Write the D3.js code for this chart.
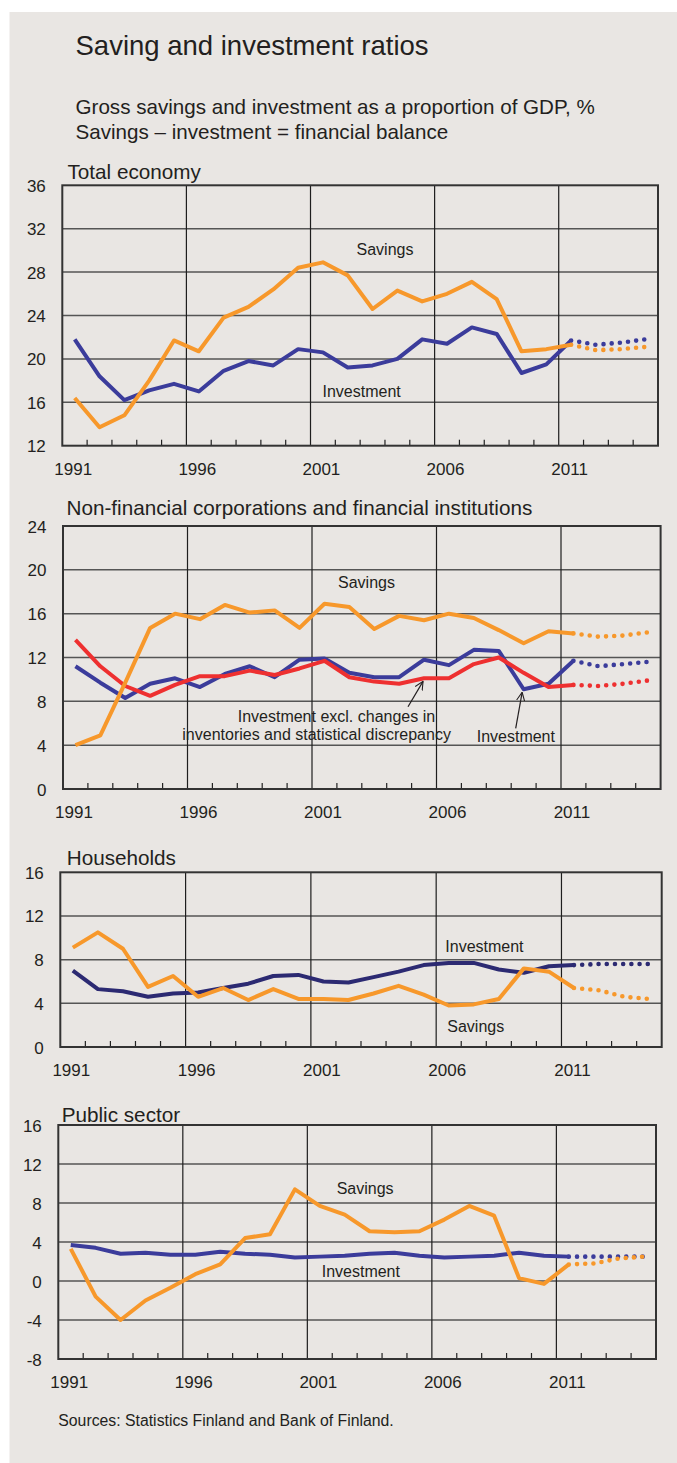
<!DOCTYPE html>
<html>
<head>
<meta charset="utf-8">
<script src="https://cdn.jsdelivr.net/npm/d3@7"></script>
<style>
  html, body { margin: 0; padding: 0; background: #ffffff; }
  svg { display: block; }
  text { font-family: "Liberation Sans", Arial, Helvetica, sans-serif; fill: #231f20; }
</style>
</head>
<body>
<svg id="chart" width="677" height="1463"></svg>
<script>
// ---------------- DATA ----------------
const years = [1991,1992,1993,1994,1995,1996,1997,1998,1999,2000,2001,2002,2003,2004,2005,2006,2007,2008,2009,2010,2011,2012,2013,2014];
const xTickLabels = [1991,1996,2001,2006,2011];
const lastActualYear = 2011;

// Total economy
const totalSavings    = [16.4,13.7,14.8,18.0,21.7,20.7,23.8,24.8,26.4,28.4,28.9,27.7,24.6,26.3,25.3,26.0,27.1,25.5,20.7,20.9,21.3,20.8,20.9,21.1];
const totalInvestment = [21.8,18.4,16.2,17.1,17.7,17.0,18.9,19.8,19.4,20.9,20.6,19.2,19.4,20.0,21.8,21.4,22.9,22.3,18.7,19.5,21.7,21.3,21.5,21.8];
const totalTicks = [12,16,20,24,28,32,36];

// Non-financial corporations and financial institutions
const corpSavings    = [4.0,4.9,9.7,14.7,16.0,15.5,16.8,16.1,16.3,14.7,16.9,16.6,14.6,15.8,15.4,16.0,15.6,14.5,13.3,14.4,14.2,13.9,14.0,14.3];
const corpInvestment = [11.2,9.7,8.3,9.6,10.1,9.3,10.5,11.2,10.2,11.8,11.9,10.6,10.2,10.2,11.8,11.3,12.7,12.6,9.1,9.6,11.7,11.2,11.4,11.6];
const corpInvExcl    = [13.6,11.2,9.4,8.5,9.5,10.3,10.3,10.8,10.4,11.0,11.7,10.2,9.8,9.6,10.1,10.1,11.4,12.0,10.6,9.3,9.5,9.4,9.6,9.9];
const corpTicks = [0,4,8,12,16,20,24];

// Households
const houseSavings    = [9.1,10.5,9.0,5.5,6.5,4.6,5.4,4.3,5.3,4.4,4.4,4.3,4.9,5.6,4.8,3.8,3.9,4.4,7.2,6.9,5.4,5.2,4.6,4.4];
const houseInvestment = [7.0,5.3,5.1,4.6,4.9,5.0,5.4,5.8,6.5,6.6,6.0,5.9,6.4,6.9,7.5,7.7,7.7,7.1,6.8,7.4,7.5,7.6,7.6,7.6];
const houseTicks = [0,4,8,12,16];

// Public sector
const publicSavings    = [3.3,-1.6,-4.0,-2.0,-0.7,0.7,1.7,4.4,4.8,9.4,7.7,6.8,5.1,5.0,5.1,6.3,7.7,6.7,0.3,-0.3,1.7,1.8,2.3,2.5];
const publicInvestment = [3.7,3.4,2.8,2.9,2.7,2.7,3.0,2.8,2.7,2.4,2.5,2.6,2.8,2.9,2.6,2.4,2.5,2.6,2.9,2.6,2.5,2.5,2.5,2.5];
const publicTicks = [-8,-4,0,4,8,12,16];

// ---------------- STYLE ----------------
const ORANGE = "#f7982b";
const BLUE = "#3b3c9b";
const NAVY = "#2c2a72";
const RED = "#ee3030";
const BG = "#e9e6e3";

const svg = d3.select("#chart");
svg.append("rect").attr("x", 0).attr("y", 0).attr("width", 677).attr("height", 1463).attr("fill", "#ffffff");
svg.append("rect").attr("x", 9.5).attr("y", 12).attr("width", 668).attr("height", 1451).attr("fill", BG);

svg.append("text").attr("x", 75.5).attr("y", 55).attr("font-size", 27.5).text("Saving and investment ratios");
svg.append("text").attr("x", 75.5).attr("y", 114).attr("font-size", 20.6).text("Gross savings and investment as a proportion of GDP, %");
svg.append("text").attr("x", 75.5).attr("y", 138.5).attr("font-size", 20.6).text("Savings \u2013 investment = financial balance");

svg.append("text").attr("x", 58.3).attr("y", 1425.5).attr("font-size", 15.8).text("Sources: Statistics Finland and Bank of Finland.");

// arrow marker
const defs = svg.append("defs");
defs.append("marker").attr("id", "arr").attr("viewBox", "0 0 10 10").attr("refX", 9.5).attr("refY", 5)
  .attr("markerWidth", 9).attr("markerHeight", 9).attr("orient", "auto").attr("markerUnits", "userSpaceOnUse")
  .append("path").attr("d", "M0,0.5 L9.5,5 L0,9.5").attr("fill", "none").attr("stroke", "#231f20").attr("stroke-width", 1.2);

function panel(cfg) {
  const g = svg.append("g");
  const x = d3.scaleBand().domain(years).range([cfg.left, cfg.right]).padding(0);
  const y = d3.scaleLinear().domain(cfg.domain).range([cfg.bottom, cfg.top]);
  const cx = d => x(d) + x.bandwidth() / 2;

  // title
  g.append("text").attr("x", cfg.titleX).attr("y", cfg.titleY).attr("font-size", 20.7).text(cfg.title);

  // horizontal gridlines
  g.selectAll(".hg").data(cfg.ticks.filter(t => t !== cfg.domain[0] && t !== cfg.domain[1])).enter().append("line")
    .attr("x1", cfg.left).attr("x2", cfg.right).attr("y1", d => y(d)).attr("y2", d => y(d))
    .attr("stroke", "#555555").attr("stroke-width", 1.5);
  // vertical gridlines
  g.selectAll(".vg").data(xTickLabels.slice(1)).enter().append("line")
    .attr("x1", d => x(d)).attr("x2", d => x(d)).attr("y1", cfg.top).attr("y2", cfg.bottom)
    .attr("stroke", "#1e1e1e").attr("stroke-width", 1.2);
  // minor ticks
  g.selectAll(".mt").data(years.slice(1).filter(yr => !xTickLabels.includes(yr))).enter().append("line")
    .attr("x1", d => x(d)).attr("x2", d => x(d)).attr("y1", cfg.bottom).attr("y2", cfg.bottom - 6)
    .attr("stroke", "#222").attr("stroke-width", 1.2);
  // frame
  g.append("rect").attr("x", cfg.left).attr("y", cfg.top).attr("width", cfg.right - cfg.left).attr("height", cfg.bottom - cfg.top)
    .attr("fill", "none").attr("stroke", "#333333").attr("stroke-width", 2);

  // y labels
  g.selectAll(".yl").data(cfg.ticks).enter().append("text")
    .attr("x", cfg.left - 16.5).attr("y", d => y(d) + 6.5).attr("text-anchor", "end").attr("font-size", 17)
    .text(d => d);
  // x labels
  g.selectAll(".xl").data(xTickLabels).enter().append("text")
    .attr("x", d => cx(d) - 1.5).attr("y", cfg.bottom + 29).attr("text-anchor", "middle").attr("font-size", 17)
    .text(d => d);

  const cut = years.indexOf(lastActualYear);
  const line = d3.line().x(d => cx(d.yr)).y(d => y(d.v));
  cfg.series.forEach(s => {
    const pts = years.map((yr, i) => ({ yr, v: s.values[i] }));
    g.append("path").attr("d", line(pts.slice(0, cut + 1))).attr("fill", "none")
      .attr("stroke", s.color).attr("stroke-width", 4).attr("stroke-linejoin", "round");
    g.append("path").attr("d", line(pts.slice(cut))).attr("fill", "none")
      .attr("stroke", s.color).attr("stroke-width", 4.6).attr("stroke-linecap", "round")
      .attr("stroke-dasharray", "0 8.2");
  });

  (cfg.labels || []).forEach(l => {
    g.append("text").attr("x", l.x).attr("y", l.y).attr("font-size", 16).text(l.text);
  });
  return { g, x, y, cx };
}

// Panel 1
panel({
  title: "Total economy", titleX: 67.5, titleY: 179,
  left: 62.3, right: 658, top: 185.3, bottom: 445.7, domain: [12, 36], ticks: totalTicks,
  series: [
    { values: totalInvestment, color: BLUE },
    { values: totalSavings, color: ORANGE }
  ],
  labels: [
    { text: "Savings", x: 356.5, y: 255 },
    { text: "Investment", x: 322.5, y: 396.7 }
  ]
});

// Panel 2
const p2 = panel({
  title: "Non-financial corporations and financial institutions", titleX: 66.5, titleY: 515,
  left: 63, right: 660.6, top: 526, bottom: 789, domain: [0, 24], ticks: corpTicks,
  series: [
    { values: corpInvestment, color: BLUE },
    { values: corpInvExcl, color: RED },
    { values: corpSavings, color: ORANGE }
  ],
  labels: [
    { text: "Savings", x: 338, y: 588 },
    { text: "Investment excl. changes in", x: 237.7, y: 721.7 },
    { text: "inventories and statistical discrepancy", x: 182.3, y: 740 },
    { text: "Investment", x: 476.7, y: 741.7 }
  ]
});
// arrows pointing at the series
{
  const i05 = years.indexOf(2005), i09 = years.indexOf(2009);
  p2.g.append("line").attr("x1", 408).attr("y1", 706.7)
    .attr("x2", p2.cx(2005) - 1).attr("y2", p2.y(corpInvExcl[i05]) + 3)
    .attr("stroke", "#231f20").attr("stroke-width", 1.2).attr("marker-end", "url(#arr)");
  p2.g.append("line").attr("x1", 515.7).attr("y1", 728.3)
    .attr("x2", p2.cx(2009) - 1.5).attr("y2", p2.y(corpInvestment[i09]) + 3)
    .attr("stroke", "#231f20").attr("stroke-width", 1.2).attr("marker-end", "url(#arr)");
}

// Panel 3
panel({
  title: "Households", titleX: 66.7, titleY: 865,
  left: 60.3, right: 661.7, top: 872.3, bottom: 1047, domain: [0, 16], ticks: houseTicks,
  series: [
    { values: houseInvestment, color: NAVY },
    { values: houseSavings, color: ORANGE }
  ],
  labels: [
    { text: "Investment", x: 445.3, y: 951.7 },
    { text: "Savings", x: 447.3, y: 1031.7 }
  ]
});

// Panel 4
panel({
  title: "Public sector", titleX: 61.7, titleY: 1122.3,
  left: 58.3, right: 656, top: 1125, bottom: 1359, domain: [-8, 16], ticks: publicTicks,
  series: [
    { values: publicInvestment, color: BLUE },
    { values: publicSavings, color: ORANGE }
  ],
  labels: [
    { text: "Savings", x: 336.7, y: 1194 },
    { text: "Investment", x: 321.7, y: 1276.7 }
  ]
});
</script>
</body>
</html>
